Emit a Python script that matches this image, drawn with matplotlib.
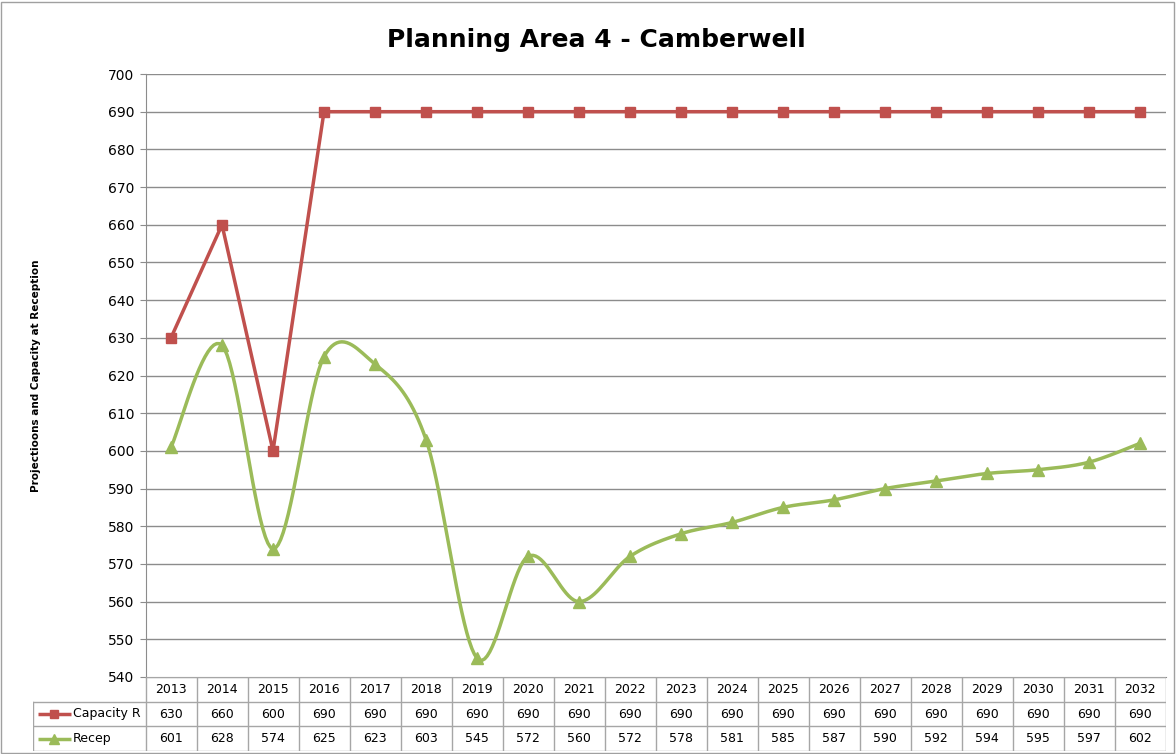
import numpy as np
import matplotlib.pyplot as plt

years = ['2013', '2014', '2015', '2016', '2017', '2018', '2019', '2020', '2021', '2022',
         '2023', '2024', '2025', '2026', '2027', '2028', '2029', '2030', '2031', '2032']
capacity = [630, 660, 600, 690, 690, 690, 690, 690, 690, 690,
            690, 690, 690, 690, 690, 690, 690, 690, 690, 690]
recep = [601, 628, 574, 625, 623, 603, 545, 572, 560, 572,
         578, 581, 585, 587, 590, 592, 594, 595, 597, 602]
series_names = ['Capacity R', 'Recep']

RED = '#C0504D'
GREEN = '#9BBB59'
GRID = '#8C8C8C'

W, H = 1176, 754
fig = plt.figure(figsize=(W / 100, H / 100), dpi=100)

# chart border
fig.add_artist(plt.Rectangle((1 / W, 1 / H), 1 - 3 / W, 1 - 3 / H, transform=fig.transFigure,
                             fill=False, edgecolor='#A0A0A0', lw=1))


def px(x0, y0, x1, y1):
    return [x0 / W, 1 - y1 / H, (x1 - x0) / W, (y1 - y0) / H]


ax = fig.add_axes(px(145.5, 74, 1165.5, 677))
n = len(years)
x = np.arange(n)


def smooth(xs, ys, steps=20):
    # bezier smoothing through the points, like the spreadsheet smoothed line
    xs = np.asarray(xs, float)
    ys = np.asarray(ys, float)
    px_, py_ = [], []
    for i in range(len(xs) - 1):
        p0 = (xs[max(i - 1, 0)], ys[max(i - 1, 0)])
        p1 = (xs[i], ys[i])
        p2 = (xs[i + 1], ys[i + 1])
        p3 = (xs[min(i + 2, len(xs) - 1)], ys[min(i + 2, len(xs) - 1)])
        t = np.linspace(0, 1, steps, endpoint=(i == len(xs) - 2))
        c = [p1, (p1[0] + (p2[0] - p0[0]) / 6, p1[1] + (p2[1] - p0[1]) / 6),
             (p2[0] - (p3[0] - p1[0]) / 6, p2[1] - (p3[1] - p1[1]) / 6), p2]
        bx = ((1 - t) ** 3 * c[0][0] + 3 * (1 - t) ** 2 * t * c[1][0]
              + 3 * (1 - t) * t ** 2 * c[2][0] + t ** 3 * c[3][0])
        by = ((1 - t) ** 3 * c[0][1] + 3 * (1 - t) ** 2 * t * c[1][1]
              + 3 * (1 - t) * t ** 2 * c[2][1] + t ** 3 * c[3][1])
        px_.extend(bx)
        py_.extend(by)
    return px_, py_


for v in range(550, 701, 10):
    ax.axhline(v, color=GRID, lw=1, zorder=0)

ax.plot(x, capacity, color=RED, lw=2.5, marker='s', ms=7, zorder=3)
sx, sy = smooth(x, recep)
ax.plot(sx, sy, color=GREEN, lw=2.5, zorder=3)
ax.plot(x, recep, ls='none', color=GREEN, marker='^', ms=8, zorder=4)

ax.set_xlim(-0.5, n - 0.5)
ax.set_ylim(540, 700)
ax.set_yticks(range(540, 701, 10))
ax.set_xticks([])
ax.tick_params(axis='y', labelsize=10, length=4, color=GRID, pad=4)
for s in ['top', 'right']:
    ax.spines[s].set_visible(False)
ax.spines['left'].set_color(GRID)
ax.spines['bottom'].set_color(GRID)
ax.set_ylabel('Projectioons and Capacity at Reception', fontsize=7.5, fontweight='bold')
ax.yaxis.set_label_coords(-104 / 1020, 0.5)

fig.text(596 / W, 1 - 40 / H, 'Planning Area 4 - Camberwell', ha='center', va='center',
         fontsize=18, fontweight='bold')

# data table
lab_w = (145.5 - 33) / 51.0
tb = fig.add_axes(px(33, 677, 1165.5, 751))
tb.set_xlim(-0.5 - lab_w, n - 0.5)
tb.set_ylim(3, 0)
tb.axis('off')
lc = '#A6A6A6'
tb.plot([-0.5, n - 0.5], [0, 0], color=lc, lw=1)
for r in (1, 2, 3):
    tb.plot([-0.5 - lab_w, n - 0.5], [r, r], color=lc, lw=1)
tb.plot([-0.5 - lab_w] * 2, [1, 3], color=lc, lw=1)
for i in range(n + 1):
    tb.plot([i - 0.5] * 2, [0, 3], color=lc, lw=1)
for i in range(n):
    tb.text(i, 0.5, years[i], ha='center', va='center', fontsize=9)
    tb.text(i, 1.5, str(capacity[i]), ha='center', va='center', fontsize=9)
    tb.text(i, 2.5, str(recep[i]), ha='center', va='center', fontsize=9)
x0 = -0.5 - lab_w
tb.plot([x0 + 0.1, x0 + 0.75], [1.5, 1.5], color=RED, lw=2.5, solid_capstyle='butt')
tb.plot([x0 + 0.42], [1.5], color=RED, marker='s', ms=6)
tb.text(x0 + 0.78, 1.5, series_names[0], ha='left', va='center', fontsize=9)
tb.plot([x0 + 0.1, x0 + 0.75], [2.5, 2.5], color=GREEN, lw=2.5, solid_capstyle='butt')
tb.plot([x0 + 0.42], [2.5], color=GREEN, marker='^', ms=7)
tb.text(x0 + 0.78, 2.5, series_names[1], ha='left', va='center', fontsize=9)

fig.savefig('out.png', dpi=100)
